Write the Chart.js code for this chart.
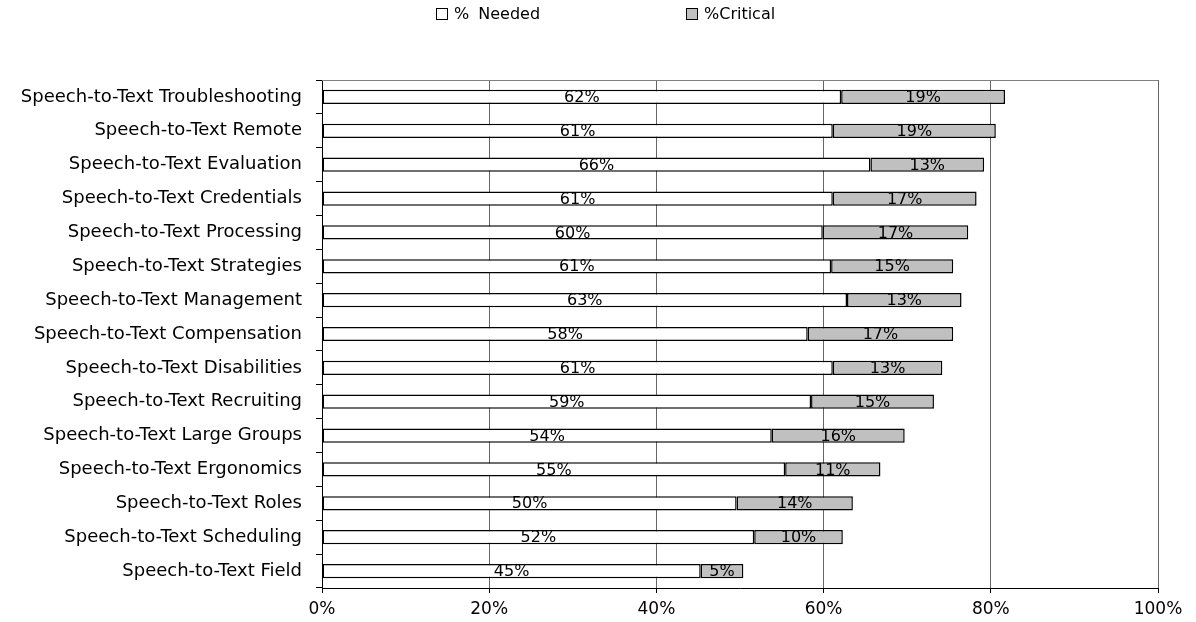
<!DOCTYPE html>
<html>
<head>
<meta charset="utf-8">
<script src="https://cdn.jsdelivr.net/npm/chart.js@4/dist/chart.umd.min.js"></script>
<style>
  html, body { margin:0; padding:0; background:#fff; }
  #wrap { position:relative; width:1196px; height:622px; }
  .lg { position:absolute; top:4px; font:16px "DejaVu Sans", sans-serif; color:#000; display:flex; align-items:center; gap:6px; }
  .lg i { display:inline-block; width:10px; height:10px; border:1px solid #000; }
</style>
</head>
<body>
<div id="wrap">
  <canvas id="c" width="1196" height="622"></canvas>
  <div class="lg" style="left:436px"><i style="background:#fff"></i><span style="word-spacing:4px">% Needed</span></div>
  <div class="lg" style="left:686px"><i style="background:#c0c0c0"></i><span>%Critical</span></div>
</div>
<script>
/* ---------- Data ---------- */
const categories = [
  'Speech-to-Text Troubleshooting','Speech-to-Text Remote','Speech-to-Text Evaluation',
  'Speech-to-Text Credentials','Speech-to-Text Processing','Speech-to-Text Strategies',
  'Speech-to-Text Management','Speech-to-Text Compensation','Speech-to-Text Disabilities',
  'Speech-to-Text Recruiting','Speech-to-Text Large Groups','Speech-to-Text Ergonomics',
  'Speech-to-Text Roles','Speech-to-Text Scheduling','Speech-to-Text Field'
];
const needed   = [62.1, 61.1, 65.6, 61.1, 59.9, 60.9, 62.8, 58.1, 61.1, 58.5, 53.8, 55.4, 49.6, 51.7, 45.3];
const critical = [19.6, 19.5, 13.6, 17.2, 17.4, 14.6, 13.7, 17.4, 13.1, 14.7, 15.9, 11.4, 13.9, 10.6, 5.1];
// percentages printed on the bars
const neededLabels   = [62, 61, 66, 61, 60, 61, 63, 58, 61, 59, 54, 55, 50, 52, 45];
const criticalLabels = [19, 19, 13, 17, 17, 15, 13, 17, 13, 15, 16, 11, 14, 10, 5];
const xTicks = [0, 20, 40, 60, 80, 100];

const FONT = '"DejaVu Sans", sans-serif';

/* ---------- Plugins ---------- */
const barLabels = {
  id:'barLabels',
  afterDatasetsDraw(chart){
    const ctx = chart.ctx;
    const texts = [neededLabels, criticalLabels];
    ctx.save();
    ctx.font = '16px ' + FONT;
    ctx.fillStyle = '#000';
    ctx.textAlign = 'center';
    ctx.textBaseline = 'middle';
    chart.data.datasets.forEach((ds, i) => {
      chart.getDatasetMeta(i).data.forEach((bar, j) => {
        const p = bar.getProps(['x','base','y'], true);
        ctx.fillText(texts[i][j] + '%', (p.x + p.base) / 2, p.y + 1);
      });
    });
    ctx.restore();
  }
};
const topBorder = {
  id:'topBorder',
  beforeDatasetsDraw(chart){
    const {ctx, chartArea:a} = chart;
    ctx.save();
    ctx.strokeStyle = '#808080';
    ctx.lineWidth = 1;
    ctx.beginPath();
    ctx.moveTo(a.left, a.top + .5);
    ctx.lineTo(a.right, a.top + .5);
    ctx.stroke();
    ctx.restore();
  }
};

/* ---------- Chart ---------- */
new Chart(document.getElementById('c'), {
  type:'bar',
  data:{
    labels:categories,
    datasets:[
      { label:'% Needed', data:needed, backgroundColor:'#ffffff', borderColor:'#000', borderWidth:1.5, borderSkipped:false },
      { label:'%Critical', data:critical, backgroundColor:'#c0c0c0', borderColor:'#000', borderWidth:1.5, borderSkipped:false }
    ]
  },
  options:{
    indexAxis:'y',
    responsive:false,
    animation:false,
    layout:{ padding:{ top:80, right:38, left:0, bottom:0 } },
    datasets:{ bar:{ categoryPercentage:1, barPercentage:0.42 } },
    plugins:{ legend:{ display:false }, tooltip:{ enabled:false } },
    scales:{
      x:{
        stacked:true, min:0, max:100,
        afterBuildTicks: s => { s.ticks = xTicks.map(v => ({ value:v })); },
        afterFit: s => { s.height = 34; },
        grid:{ color:'#666', lineWidth:1, tickLength:5, tickColor:'#000' },
        border:{ color:'#000', width:1 },
        ticks:{ color:'#000', padding:6, font:{ family:FONT, size:17 }, callback: v => v + '%' }
      },
      y:{
        stacked:true,
        afterFit: s => { s.width = 322; },
        grid:{ drawOnChartArea:false, tickLength:6, color:'#000', offset:true },
        border:{ color:'#000', width:1 },
        ticks:{ color:'#000', padding:14, font:{ family:FONT, size:18 } }
      }
    }
  },
  plugins:[barLabels, topBorder]
});
</script>
</body>
</html>
